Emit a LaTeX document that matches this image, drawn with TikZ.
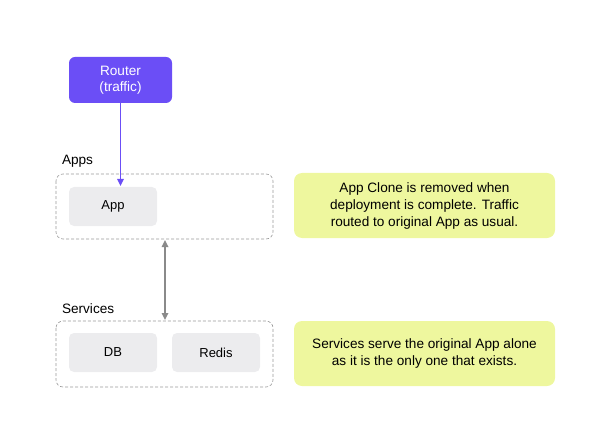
\documentclass[tikz,border=0pt]{standalone}
\usepackage{fontspec}
\setmainfont{Liberation Sans}
\usetikzlibrary{arrows.meta}
\definecolor{routerc}{HTML}{6B4EF6}
\definecolor{boxc}{HTML}{ECECEE}
\definecolor{notec}{HTML}{EEF79E}
\definecolor{dashc}{HTML}{9A9A9A}
\definecolor{arrowc}{HTML}{8A8A8A}
\tikzset{
  router/.style={fill=routerc, rounded corners=6pt},
  inbox/.style={fill=boxc, rounded corners=5pt},
  intext/.style={font=\fontsize{13}{15}\selectfont},
  group/.style={draw=dashc, dashed, dash pattern=on 3pt off 2pt, rounded corners=7pt, line width=0.6pt},
  note/.style={fill=notec, rounded corners=8pt},
  notetext/.style={align=center, font=\fontsize{13.6}{17}\selectfont},
  glabel/.style={anchor=west, font=\fontsize{13.6}{15}\selectfont},
}
\begin{document}
\begin{tikzpicture}[x=1pt,y=-1pt]
\useasboundingbox (0,0) rectangle (593,446);
% Router
\path[router] (69,57) rectangle (172,103);
\node[text=white, align=center, font=\fontsize{13.6}{16.5}\selectfont] (router) at (120.5,80) {Router\\(traffic)};
\coordinate (routerb) at (120.5,103);
% Apps group
\node[glabel] (appslbl) at (58.5,161) {Apps};
\path[group] (56,174) rectangle (273,239);
\coordinate (appsb) at (165,240);
\path[inbox] (69,187) rectangle (157,226);
\node[intext] (app) at (113,206.5) {App};
\coordinate (appt) at (120.5,186);
% Services group
\node[glabel] (svclbl) at (58.5,309) {Services};
\path[group] (56,321) rectangle (273,387);
\coordinate (svct) at (165,320);
\path[inbox] (69,333) rectangle (157,372);
\node[intext] (db) at (113,352.5) {DB};
\path[inbox] (172,333) rectangle (260,372);
\node[intext] (redis) at (216,352.5) {Redis};
% Notes
\path[note] (294,173) rectangle (555,238);
\node[notetext] (note1) at (424.5,205.5) {App Clone is removed when\\deployment is complete. Traffic\\routed to original App as usual.};
\path[note] (294,321) rectangle (555,386);
\node[notetext] (note2) at (424.5,353.5) {Services serve the original App alone\\as it is the only one that exists.};
% Arrows
\draw[routerc, line width=1.5pt, -{Triangle[length=7pt,width=6.5pt]}] (routerb) -- (appt);
\draw[arrowc, line width=1.6pt, {Triangle[length=7pt,width=6.5pt]}-{Triangle[length=7pt,width=6.5pt]}] (appsb) -- (svct);
\end{tikzpicture}
\end{document}
